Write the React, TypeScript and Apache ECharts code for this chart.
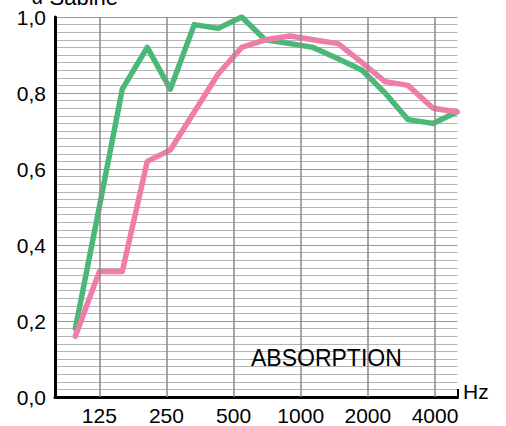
import { useEffect, useRef } from "react";
import * as echarts from "echarts";

// Octave labels and their positions (in octaves relative to 125 Hz)
const octaveLabels = ["125", "250", "500", "1000", "2000", "4000"];
const octavePositions = [0, 1, 2, 3, 4, 5];

const bandPositions = [
  -0.357, 0, 0.342, 0.714, 1.057, 1.414, 1.771, 2.121, 2.47, 2.842, 3.185,
  3.557, 3.914, 4.256, 4.598, 4.97, 5.327,
];

const greenValues = [
  0.18, 0.5, 0.81, 0.92, 0.81, 0.98, 0.97, 1.0, 0.94, 0.93, 0.92, 0.89, 0.86,
  0.8, 0.73, 0.72, 0.75,
];

const pinkValues = [
  0.16, 0.33, 0.33, 0.62, 0.65, 0.75, 0.85, 0.92, 0.94, 0.95, 0.94, 0.93, 0.88,
  0.83, 0.82, 0.76, 0.75,
];

const FONT = "Liberation Sans, Arial, Helvetica, sans-serif";

export default function App() {
  const ref = useRef<HTMLDivElement>(null);

  useEffect(() => {
    if (!ref.current) return;
    const chart = echarts.init(ref.current, null, { renderer: "svg" });
    const xMin = -0.66;
    const xMax = 5.335;
    chart.setOption({
      animation: false,
      backgroundColor: "#ffffff",
      textStyle: { fontFamily: FONT },
      grid: { left: 55, right: 48.5, top: 17, bottom: 28, containLabel: false },
      xAxis: {
        type: "value",
        min: xMin,
        max: xMax,
        position: "bottom",
        splitLine: { show: false },
        axisLine: { show: true, onZero: false, lineStyle: { color: "#000", width: 3 } },
        axisTick: {
          show: true,
          inside: true,
          length: 8,
          customValues: [xMax],
          lineStyle: { color: "#000", width: 2 },
        },
        axisLabel: {
          customValues: octavePositions,
          formatter: (v: number) => octaveLabels[Math.round(v)] ?? "",
          color: "#000",
          fontSize: 21,
          fontFamily: FONT,
          margin: 8,
        },
      },
      yAxis: {
        type: "value",
        min: 0,
        max: 1,
        interval: 0.2,
        position: "left",
        axisLine: { show: true, onZero: false, lineStyle: { color: "#000", width: 3 } },
        axisTick: { show: false },
        axisLabel: {
          formatter: (v: number) => v.toFixed(1).replace(".", ","),
          color: "#000",
          fontSize: 21,
          fontFamily: FONT,
          margin: 9,
        },
        splitLine: { show: true, lineStyle: { color: "#999", width: 1.2 } },
        minorTick: { show: false, splitNumber: 10 },
        minorSplitLine: { show: true, lineStyle: { color: "#b4b4b4", width: 1.2 } },
      },
      series: [
        {
          type: "line",
          z: 1,
          data: [],
          silent: true,
          markLine: {
            silent: true,
            symbol: "none",
            label: { show: false },
            lineStyle: { color: "#8a8a8a", type: "solid", width: 1.5 },
            data: octavePositions.map((v) => ({ xAxis: v })),
          },
        },
        {
          type: "line",
          z: 3,
          data: bandPositions.map((x, i) => [x, greenValues[i]]),
          showSymbol: false,
          symbol: "none",
          lineStyle: { color: "#4cb878", width: 5.5, cap: "round", join: "round" },
        },
        {
          type: "line",
          z: 4,
          data: bandPositions.map((x, i) => [x, pinkValues[i]]),
          showSymbol: false,
          symbol: "none",
          lineStyle: { color: "#f07ca8", width: 5.5, cap: "round", join: "round" },
          markLine: {
            silent: true,
            symbol: "none",
            label: { show: false },
            lineStyle: { color: "#000", type: "solid", width: 3 },
            data: [{ xAxis: xMin }],
          },
        },
      ],
      graphic: [
        {
          type: "text",
          left: 251,
          top: 346,
          z: 10,
          style: { text: "ABSORPTION", fill: "#000", font: `23px ${FONT}` },
        },
        {
          type: "text",
          left: 463,
          top: 381,
          z: 10,
          style: { text: "Hz", fill: "#000", font: `21px ${FONT}` },
        },
        {
          type: "text",
          left: 32,
          top: -14,
          z: 10,
          style: {
            text: "{a|α} Sabine",
            fill: "#000",
            font: `22px ${FONT}`,
            rich: {
              a: { fontSize: 20, fontStyle: "italic", fontFamily: FONT, fill: "#000" },
            },
          },
        },
      ],
    });
    return () => chart.dispose();
  }, []);

  return (
    <div
      ref={ref}
      style={{ position: "fixed", left: 0, top: 0, width: 506, height: 426 }}
    />
  );
}
